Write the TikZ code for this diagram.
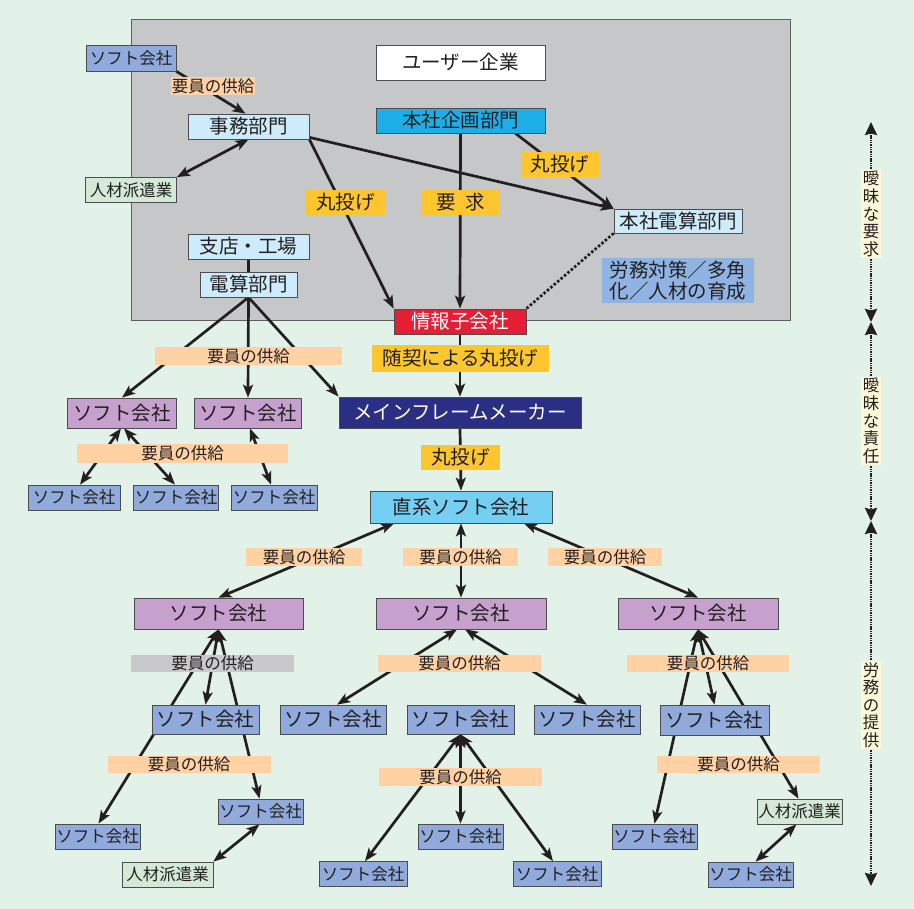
\documentclass[tikz,border=0pt]{standalone}
\usepackage{fontspec}
\setmainfont{Noto Sans CJK JP}
\usetikzlibrary{arrows.meta,calc}
\definecolor{cBg}{HTML}{E2F2E8}
\definecolor{cPanel}{HTML}{C6C7C9}
\definecolor{cPanelEdge}{HTML}{5C5E60}
\definecolor{cEdge}{HTML}{4A4C50}
\definecolor{cInk}{HTML}{231F20}
\definecolor{cSoft}{HTML}{8FAADB}
\definecolor{cPurple}{HTML}{C6A1CD}
\definecolor{cLight}{HTML}{CDEBFA}
\definecolor{cJin}{HTML}{D4EAD7}
\definecolor{cPeach}{HTML}{FFD1A3}
\definecolor{cGold}{HTML}{FEC62E}
\definecolor{cCyan}{HTML}{1DAEE8}
\definecolor{cChoku}{HTML}{74CFF2}
\definecolor{cRed}{HTML}{E41E35}
\definecolor{cNavy}{HTML}{2B2F84}
\definecolor{cRoumu}{HTML}{8FB4E3}
\definecolor{cGrayLbl}{HTML}{C9C9CB}
\definecolor{cCream}{HTML}{FFF8D8}
\newcommand\fbig{\fontsize{19.5}{21}\selectfont}
\newcommand\fsmall{\fontsize{16.5}{18}\selectfont}
\newcommand\faxis{\fontsize{16.5}{17.6}\selectfont}
\pgfdeclarelayer{panel}
\pgfdeclarelayer{edges}
\pgfsetlayers{panel,edges,main}
\begin{document}
\begin{tikzpicture}[x=1pt,y=-1pt,
  bx/.style={draw=cEdge, line width=0.7pt, inner sep=0pt, text=cInk, font=\fbig},
  sbx/.style={bx, font=\fsmall},
  lbl/.style={inner sep=0pt, text=cInk, font=\fsmall, fill=cPeach},
  glbl/.style={inner sep=0pt, text=cInk, font=\fbig, fill=cGold},
  conn/.style={draw=cInk, line width=2.7pt, -{Stealth[length=13pt,width=10pt,inset=3pt]}},
  both/.style={draw=cInk, line width=2.7pt, {Stealth[length=13pt,width=10pt,inset=3pt]}-{Stealth[length=13pt,width=10pt,inset=3pt]}},
  plainline/.style={draw=cInk, line width=2.7pt},
  axisline/.style={draw=cInk, line width=2.6pt, dash pattern=on 1.4pt off 0.9pt, {Stealth[length=13pt,width=12pt,inset=1.5pt]}-{Stealth[length=13pt,width=12pt,inset=1.5pt]}},
  axl/.style={fill=cCream, inner xsep=2pt, inner ysep=1.5pt, font=\faxis, align=center, text=cInk}
]
\begin{pgfonlayer}{panel}
\fill[cBg] (0,0) rectangle (914,909);
\draw[fill=cPanel, draw=cPanelEdge, line width=1pt] (131,20) rectangle (790,321);
\end{pgfonlayer}

% ---- top area
\node[sbx, fill=cSoft, minimum width=90, minimum height=26] (sA) at (131,58) {ソフト会社};
\node[bx, fill=cLight, minimum width=121, minimum height=25] (jimu) at (248.5,126.5) {事務部門};
\node[sbx, fill=cJin, minimum width=91, minimum height=25] (jinA) at (131,190) {人材派遣業};
\node[bx, fill=cLight, minimum width=121, minimum height=25] (shiten) at (248.5,246.5) {支店・工場};
\node[bx, fill=cLight, minimum width=97, minimum height=25] (densan) at (248.5,284.5) {電算部門};
\node[bx, fill=white, minimum width=169, minimum height=35] (user) at (460.5,62.5) {ユーザー企業};
\node[bx, fill=cCyan, minimum width=169, minimum height=25] (kikaku) at (460.5,120.5) {本社企画部門};
\node[bx, fill=cLight, minimum width=128, minimum height=24] (honden) at (678,221) {本社電算部門};
\node[inner sep=0pt, fill=cRoumu, text=cInk, font=\fbig, minimum width=152, minimum height=45, align=left] (roumu) at (678,280.5) {労務対策／多角\\化／人材の育成};
\node[bx, fill=cRed, text=white, minimum width=132, minimum height=25] (joho) at (460,321.5) {情報子会社};
\node[bx, fill=cNavy, text=white, minimum width=242, minimum height=31] (mf) at (460,412.5) {メインフレームメーカー};
\node[bx, fill=cChoku, minimum width=182, minimum height=32] (choku) at (461,507) {直系ソフト会社};

% ---- left middle
\node[bx, fill=cPurple, minimum width=109, minimum height=30] (p1) at (122,413) {ソフト会社};
\node[bx, fill=cPurple, minimum width=107, minimum height=30] (p2) at (248,413) {ソフト会社};
\node[sbx, fill=cSoft, minimum width=92, minimum height=25] (s1) at (74,497.5) {ソフト会社};
\node[sbx, fill=cSoft, minimum width=85, minimum height=25] (s2) at (176,497.5) {ソフト会社};
\node[sbx, fill=cSoft, minimum width=86, minimum height=25] (s3) at (274,497.5) {ソフト会社};

% ---- purple row
\node[bx, fill=cPurple, minimum width=169, minimum height=31] (pL) at (218.5,613.5) {ソフト会社};
\node[bx, fill=cPurple, minimum width=170, minimum height=31] (pM) at (461,613.5) {ソフト会社};
\node[bx, fill=cPurple, minimum width=160, minimum height=31] (pR) at (698,613.5) {ソフト会社};

% ---- blue row
\node[bx, fill=cSoft, minimum width=107, minimum height=29] (b1) at (205.5,719.5) {ソフト会社};
\node[bx, fill=cSoft, minimum width=106, minimum height=29] (b2) at (333,719.5) {ソフト会社};
\node[bx, fill=cSoft, minimum width=107, minimum height=29] (b3) at (460.5,719.5) {ソフト会社};
\node[bx, fill=cSoft, minimum width=106, minimum height=29] (b4) at (587,719.5) {ソフト会社};
\node[bx, fill=cSoft, minimum width=109, minimum height=30] (b5) at (714.5,720) {ソフト会社};

% ---- bottom row
\node[sbx, fill=cSoft, minimum width=85, minimum height=25] (c1) at (97.5,836.5) {ソフト会社};
\node[sbx, fill=cSoft, minimum width=85, minimum height=25] (c2) at (260.5,811.5) {ソフト会社};
\node[sbx, fill=cJin, minimum width=91, minimum height=25] (jinB) at (167.5,874.5) {人材派遣業};
\node[sbx, fill=cSoft, minimum width=85, minimum height=25] (c3) at (460.5,836.5) {ソフト会社};
\node[sbx, fill=cSoft, minimum width=88, minimum height=25] (c4) at (363,874) {ソフト会社};
\node[sbx, fill=cSoft, minimum width=88, minimum height=25] (c5) at (557,874) {ソフト会社};
\node[sbx, fill=cSoft, minimum width=85, minimum height=25] (c6) at (654.5,836.5) {ソフト会社};
\node[sbx, fill=cJin, minimum width=85, minimum height=25] (jinC) at (799.5,811.5) {人材派遣業};
\node[sbx, fill=cSoft, minimum width=85, minimum height=25] (c7) at (750.5,874.5) {ソフト会社};

% ---- axis coordinates
\coordinate (ax0) at (871,122);
\coordinate (ax1) at (871,322);
\coordinate (ax2) at (871,521);
\coordinate (ax3) at (871,886);

% ---- connectors
\begin{pgfonlayer}{edges}
\draw[conn] (sA.south east) -- ([xshift=-3pt]jimu.north);
\draw[both] (jinA.north east) -- (jimu.south);
\draw[plainline] (shiten.south) -- (densan.north);
\draw[conn] (kikaku.south) -- (joho.north);
\draw[conn] (jimu.south east) -- (joho.north west);
\draw[conn] ([yshift=2pt]jimu.south east) -- (honden.north west);
\draw[conn] ([xshift=-30pt]kikaku.south east) -- (honden.north west);
\draw[draw=cInk, line width=2.7pt, dash pattern=on 2.5pt off 2pt] (honden.south west) -- (joho.north east);
\draw[conn] (densan.south) -- (p1.north);
\draw[conn] (densan.south) -- (p2.north);
\draw[conn] (densan.south) -- (mf.north west);
\draw[conn] (joho.south) -- (mf.north);
\draw[conn] (mf.south) -- (choku.north);
\draw[both] ([xshift=-1pt]p1.south) -- ([xshift=6pt]s1.north);
\draw[both] ([xshift=2pt]p1.south) -- ([xshift=-1pt]s2.north);
\draw[both] ([xshift=2pt]p2.south) -- ([xshift=-3pt]s3.north);
\draw[both] ([xshift=-67pt]choku.south) -- (pL.north);
\draw[both] (choku.south) -- (pM.north);
\draw[both] ([xshift=63pt]choku.south) -- (pR.north);
\draw[both] (pL.south) -- ([xshift=1pt]c1.north);
\draw[both] (pL.south) -- (b1.north);
\draw[both] (pL.south) -- ([xshift=-1pt]c2.north);
\draw[both] ([xshift=-4pt]pM.south) -- ([xshift=4pt]b2.north);
\draw[both] ([xshift=4pt]pM.south) -- (b4.north);
\draw[both] (pR.south) -- (c6.north);
\draw[both] (pR.south) -- (b5.north);
\draw[both] (pR.south) -- ([xshift=-1pt]jinC.north);
\draw[both] ([xshift=-1pt]c2.south) -- (jinB.north east);
\draw[both] (b3.south) -- ([xshift=2pt]c4.north);
\draw[both] (b3.south) -- (c3.north);
\draw[both] (b3.south) -- ([xshift=-4pt]c5.north);
\draw[both] ([xshift=-3pt]jinC.south) -- ([xshift=5pt]c7.north);
\draw[axisline] (ax0) -- (ax1);
\draw[axisline] (ax1) -- (ax2);
\draw[axisline] (ax2) -- (ax3);
\end{pgfonlayer}

% ---- labels over the connectors
\node[lbl, minimum width=84, minimum height=18] (lA) at (213,86) {要員の供給};
\node[glbl, minimum width=78, minimum height=25] (lMaruR) at (560,164.5) {丸投げ};
\node[glbl, minimum width=79, minimum height=25] (lYokyu) at (460.5,202.5) {要\hspace{0.5em}求};
\node[glbl, minimum width=79, minimum height=25] (lMaruL) at (345.5,202.5) {丸投げ};
\node[glbl, minimum width=177, minimum height=27] (lZui) at (460.5,358.5) {随契による丸投げ};
\node[glbl, minimum width=79, minimum height=25] (lMaruC) at (460.5,457.5) {丸投げ};
\node[lbl, minimum width=187, minimum height=18] (lB) at (248.5,356.5) {要員の供給};
\node[lbl, minimum width=211, minimum height=19] (lC) at (182.5,453.5) {要員の供給};
\node[lbl, minimum width=116, minimum height=18] (lD) at (304,557) {要員の供給};
\node[lbl, minimum width=115, minimum height=18] (lE) at (460.5,557) {要員の供給};
\node[lbl, minimum width=114, minimum height=18] (lF) at (605,557) {要員の供給};
\node[lbl, fill=cGrayLbl, minimum width=163, minimum height=17] (lG) at (212.5,663.5) {要員の供給};
\node[lbl, minimum width=163, minimum height=17] (lH) at (459.5,663.5) {要員の供給};
\node[lbl, minimum width=162, minimum height=17] (lI) at (708,663.5) {要員の供給};
\node[lbl, minimum width=163, minimum height=17] (lJ) at (189,764.5) {要員の供給};
\node[lbl, minimum width=163, minimum height=18] (lK) at (460.5,777) {要員の供給};
\node[lbl, minimum width=163, minimum height=17] (lL) at (738.5,764.5) {要員の供給};

% ---- axis labels
\node[axl] (axA) at (871,214) {曖\\昧\\な\\要\\求};
\node[axl] (axB) at (871,421) {曖\\昧\\な\\責\\任};
\node[axl] (axC) at (871,705) {労\\務\\の\\提\\供};
\end{tikzpicture}
\end{document}
